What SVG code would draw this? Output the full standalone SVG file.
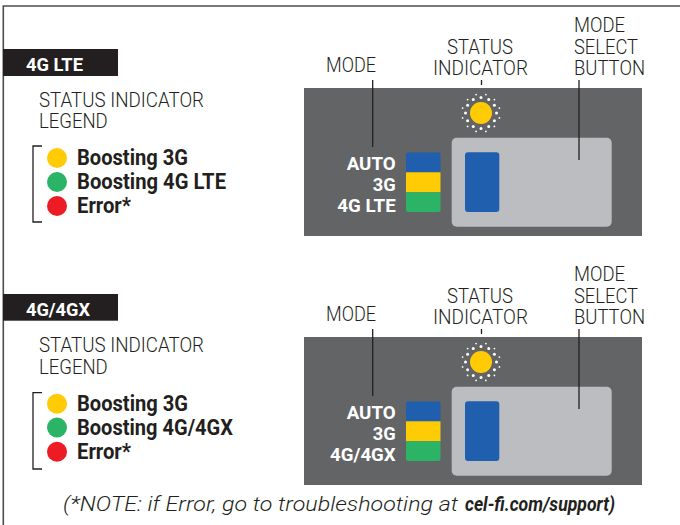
<svg xmlns="http://www.w3.org/2000/svg" width="680" height="525" viewBox="0 0 680 525">
<style>
text{font-family:Roboto,"Liberation Sans",sans-serif}
.lbl{font-weight:300;font-size:20.5px;fill:#231f20}
.tag{font-weight:700;font-size:18.5px;fill:#fff}
.leg{font-weight:700;font-size:22px;fill:#231f20}
.mode{font-weight:700;font-size:17.5px;fill:#fff}
.ln{stroke:#231f20;stroke-width:1.3;fill:none}
.frame{stroke:#4d4d4f;stroke-width:1.6;fill:none}
.panel{fill:#636466}
.btn{fill:#bcbdc0}
.blue{fill:#1f5fad}
.yel{fill:#ffcb05}
.grn{fill:#2bb466}
.red{fill:#ed1c24}
.dot{fill:#fff}
.note{font-style:italic;font-size:20px;fill:#231f20}
</style>
<defs>
<clipPath id="barclip"><rect x="406" y="152.3" width="34.7" height="59.7" rx="2.5"/></clipPath>
<g id="sun">
<circle r="11" class="yel"/>
<g class="dot">
<circle cx="0" cy="-15.5" r="1.5"/><circle cx="7.75" cy="-13.4" r="1.5"/><circle cx="13.4" cy="-7.75" r="1.5"/>
<circle cx="15.5" cy="0" r="1.5"/><circle cx="13.4" cy="7.75" r="1.5"/><circle cx="7.75" cy="13.4" r="1.5"/>
<circle cx="0" cy="15.5" r="1.5"/><circle cx="-7.75" cy="13.4" r="1.5"/><circle cx="-13.4" cy="7.75" r="1.5"/>
<circle cx="-15.5" cy="0" r="1.5"/><circle cx="-13.4" cy="-7.75" r="1.5"/><circle cx="-7.75" cy="-13.4" r="1.5"/>
<circle cx="4.9" cy="-18.4" r="0.9"/><circle cx="13.4" cy="-13.4" r="0.9"/><circle cx="18.4" cy="-4.9" r="0.9"/>
<circle cx="18.4" cy="4.9" r="0.9"/><circle cx="13.4" cy="13.4" r="0.9"/><circle cx="4.9" cy="18.4" r="0.9"/>
<circle cx="-4.9" cy="18.4" r="0.9"/><circle cx="-13.4" cy="13.4" r="0.9"/><circle cx="-18.4" cy="4.9" r="0.9"/>
<circle cx="-18.4" cy="-4.9" r="0.9"/><circle cx="-13.4" cy="-13.4" r="0.9"/><circle cx="-4.9" cy="-18.4" r="0.9"/>
</g>
</g>
</defs>

<g id="frame">
<path class="frame" d="M3.3,525 V6 H680"/>
</g>

<!-- Section 1: 4G LTE -->
<g id="tag-lte">
<rect x="3" y="49" width="115" height="27" fill="#231f20"/>
<text class="tag" x="26" y="71" textLength="57" lengthAdjust="spacingAndGlyphs">4G LTE</text>
</g>
<g id="legend-lte">
<text class="lbl" x="39" y="107" textLength="165" lengthAdjust="spacingAndGlyphs">STATUS INDICATOR</text>
<text class="lbl" x="39" y="128" textLength="68.7" lengthAdjust="spacingAndGlyphs">LEGEND</text>
<path class="ln" d="M42,146 H33 V222 H42"/>
<circle cx="57" cy="158" r="10" class="yel"/>
<circle cx="57" cy="182" r="10" class="grn"/>
<circle cx="57" cy="206" r="10" class="red"/>
<text class="leg" x="77" y="165" textLength="111" lengthAdjust="spacingAndGlyphs">Boosting 3G</text>
<text class="leg" x="77" y="189" textLength="149" lengthAdjust="spacingAndGlyphs">Boosting 4G LTE</text>
<text class="leg" x="77" y="213" textLength="54" lengthAdjust="spacingAndGlyphs">Error*</text>
</g>
<g id="device-lte">
<rect class="panel" x="304" y="88" width="338" height="148"/>
<rect class="btn" x="451.7" y="137.7" width="160" height="89" rx="5"/>
<rect class="blue" x="465" y="152.3" width="34.3" height="59.7" rx="3"/>
<g clip-path="url(#barclip)">
<rect class="blue" x="406" y="152.3" width="34.7" height="20"/>
<rect class="yel" x="406" y="172.3" width="34.7" height="20"/>
<rect class="grn" x="406" y="192.3" width="34.7" height="19.7"/>
</g>
<text class="mode" x="395.7" y="170" text-anchor="end" textLength="49" lengthAdjust="spacingAndGlyphs">AUTO</text>
<text class="mode" x="395.7" y="190.5" text-anchor="end" textLength="23" lengthAdjust="spacingAndGlyphs">3G</text>
<text class="mode" x="395.7" y="211.5" text-anchor="end" textLength="58.4" lengthAdjust="spacingAndGlyphs">4G LTE</text>
<use href="#sun" x="481" y="113"/>
</g>
<g id="labels-lte">
<text class="lbl" x="326" y="72" textLength="50" lengthAdjust="spacingAndGlyphs">MODE</text>
<text class="lbl" x="447" y="54" textLength="66" lengthAdjust="spacingAndGlyphs">STATUS</text>
<text class="lbl" x="433" y="75" textLength="95" lengthAdjust="spacingAndGlyphs">INDICATOR</text>
<text class="lbl" x="574" y="32" textLength="51" lengthAdjust="spacingAndGlyphs">MODE</text>
<text class="lbl" x="574" y="54" textLength="64" lengthAdjust="spacingAndGlyphs">SELECT</text>
<text class="lbl" x="574" y="75" textLength="71" lengthAdjust="spacingAndGlyphs">BUTTON</text>
</g>

<!-- Section 2: 4G/4GX -->
<g id="tag-4gx">
<rect x="3" y="294" width="115" height="26.7" fill="#231f20"/>
<text class="tag" x="26" y="315.7" textLength="64" lengthAdjust="spacingAndGlyphs">4G/4GX</text>
</g>
<g id="legend-4gx">
<text class="lbl" x="39" y="352.3" textLength="165" lengthAdjust="spacingAndGlyphs">STATUS INDICATOR</text>
<text class="lbl" x="39" y="374" textLength="68.7" lengthAdjust="spacingAndGlyphs">LEGEND</text>
<path class="ln" d="M42,392.7 H33 V469 H42"/>
<circle cx="57" cy="403.7" r="10" class="yel"/>
<circle cx="57" cy="427.5" r="10" class="grn"/>
<circle cx="57" cy="451.7" r="10" class="red"/>
<text class="leg" x="77" y="411.3" textLength="111" lengthAdjust="spacingAndGlyphs">Boosting 3G</text>
<text class="leg" x="77" y="435" textLength="156" lengthAdjust="spacingAndGlyphs">Boosting 4G/4GX</text>
<text class="leg" x="77" y="459" textLength="54" lengthAdjust="spacingAndGlyphs">Error*</text>
</g>
<g id="device-4gx">
<g transform="translate(0,249)">
<rect class="panel" x="304" y="88" width="338" height="148"/>
<rect class="btn" x="451.7" y="137.7" width="160" height="89" rx="5"/>
<rect class="blue" x="465" y="152.3" width="34.3" height="59.7" rx="3"/>
<g clip-path="url(#barclip)">
<rect class="blue" x="406" y="152.3" width="34.7" height="20"/>
<rect class="yel" x="406" y="172.3" width="34.7" height="20"/>
<rect class="grn" x="406" y="192.3" width="34.7" height="19.7"/>
</g>
<text class="mode" x="395.7" y="170" text-anchor="end" textLength="49" lengthAdjust="spacingAndGlyphs">AUTO</text>
<text class="mode" x="395.7" y="190.5" text-anchor="end" textLength="23" lengthAdjust="spacingAndGlyphs">3G</text>
<text class="mode" x="395.7" y="211.5" text-anchor="end" textLength="65.7" lengthAdjust="spacingAndGlyphs">4G/4GX</text>
<use href="#sun" x="481" y="113"/>
</g>
</g>
<g id="labels-4gx">
<text class="lbl" x="326" y="321" textLength="50" lengthAdjust="spacingAndGlyphs">MODE</text>
<text class="lbl" x="447" y="303" textLength="66" lengthAdjust="spacingAndGlyphs">STATUS</text>
<text class="lbl" x="433" y="324" textLength="95" lengthAdjust="spacingAndGlyphs">INDICATOR</text>
<text class="lbl" x="574" y="281" textLength="51" lengthAdjust="spacingAndGlyphs">MODE</text>
<text class="lbl" x="574" y="303" textLength="64" lengthAdjust="spacingAndGlyphs">SELECT</text>
<text class="lbl" x="574" y="324" textLength="71" lengthAdjust="spacingAndGlyphs">BUTTON</text>
</g>

<g id="connectors">
<path class="ln" d="M372.7,80 V147"/>
<path class="ln" d="M481.5,80 V85"/>
<path class="ln" d="M579,80 V160"/>
<path class="ln" d="M372.7,329 V396"/>
<path class="ln" d="M481.5,329 V334"/>
<path class="ln" d="M579,329 V409"/>
</g>

<g id="note">
<text class="note" x="63" y="511" font-weight="300" textLength="395" lengthAdjust="spacingAndGlyphs">(*NOTE: if Error, go to troubleshooting at</text>
<text class="note" x="465" y="511" font-weight="700" textLength="150" lengthAdjust="spacingAndGlyphs">cel-fi.com/support)</text>
</g>
</svg>
